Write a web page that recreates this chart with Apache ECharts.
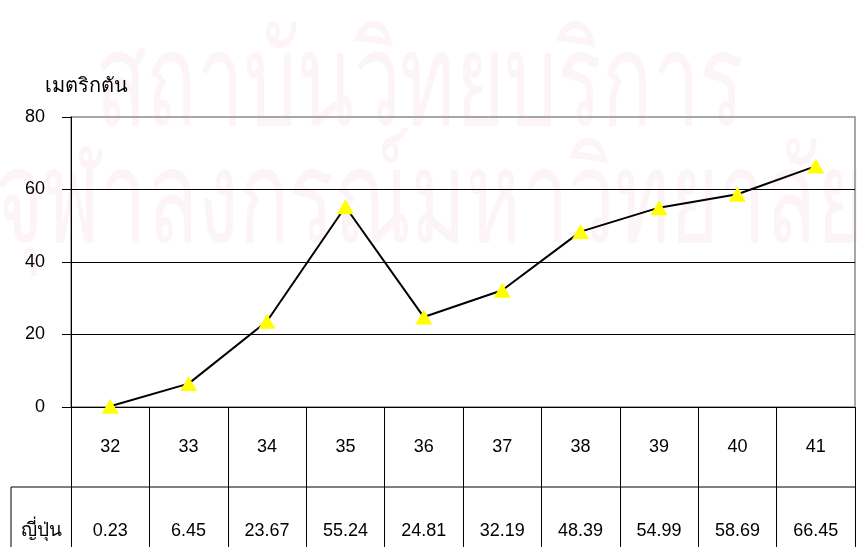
<!DOCTYPE html>
<html><head><meta charset="utf-8">
<script src="https://cdn.jsdelivr.net/npm/echarts@6/dist/echarts.min.js"></script>
<style>html,body{margin:0;padding:0;background:#fff}#c{width:857px;height:547px}</style>
</head><body><div id="c"></div>
<script>
const categories = ['32','33','34','35','36','37','38','39','40','41'];
const values = [0.23, 6.45, 23.67, 55.24, 24.81, 32.19, 48.39, 54.99, 58.69, 66.45];
const valueLabels = ['0.23','6.45','23.67','55.24','24.81','32.19','48.39','54.99','58.69','66.45'];
const seriesName = 'ญี่ปุ่น';
const unitName = 'เมตริกตัน';
const yTicks = [0, 20, 40, 60, 80];
const watermark = ['สถาบันวิทยบริการ', 'จุฬาลงกรณ์มหาวิทยาลัย'];

const W = 857, H = 547;
const G = {left: 71, right: 2, top: 117, bottom: 140};
const row1H = 80;
const FONT = '"Liberation Sans", "Noto Sans", sans-serif';

const chart = echarts.init(document.getElementById('c'), null, {renderer: 'canvas'});
const axisBottomY = H - G.bottom;
const rowSplitY = axisBottomY + row1H;
const rightX = W - G.right;

chart.setOption({
  animation: false,
  backgroundColor: '#fff',
  textStyle: {fontFamily: FONT},
  graphic: [
    {type: 'text', z: -10, x: 420, y: 24, scaleX: 0.64, style: {text: watermark[0], x: 0, y: 0, align: 'center', verticalAlign: 'top', fontSize: 130, fontFamily: FONT, fill: '#fcf4f7'}},
    {type: 'text', z: -10, x: 430, y: 141, scaleX: 0.64, style: {text: watermark[1], x: 0, y: 0, align: 'center', verticalAlign: 'top', fontSize: 130, fontFamily: FONT, fill: '#fcf4f7'}},
    {type: 'line', z: 10, shape: {x1: 11, y1: rowSplitY, x2: rightX, y2: rowSplitY}, style: {stroke: '#000', lineWidth: 1}},
    {type: 'line', z: 10, shape: {x1: 11, y1: rowSplitY, x2: 11, y2: H}, style: {stroke: '#000', lineWidth: 1}},
    {type: 'text', z: 10, x: 41, y: rowSplitY + 44, style: {text: seriesName, fontSize: 19, fontFamily: FONT, fill: '#000', align: 'center', verticalAlign: 'middle'}},
    {type: 'text', z: 10, x: 45, y: 86, style: {text: unitName, fontSize: 20, fontFamily: FONT, fill: '#000', align: 'left', verticalAlign: 'middle'}}
  ],
  grid: {left: G.left, right: G.right, top: G.top, bottom: G.bottom, show: true, borderColor: '#8a8a8a', borderWidth: 1.5, backgroundColor: 'transparent', outerBoundsMode: 'none', containLabel: false},
  xAxis: {
    type: 'category', data: categories, boundaryGap: true,
    axisLine: {show: true, lineStyle: {color: '#000', width: 1}},
    axisTick: {show: true, interval: 0, length: H - axisBottomY, lineStyle: {color: '#000', width: 1}},
    axisLabel: {
      interval: 0, margin: 0, color: '#000', fontSize: 18, fontFamily: FONT,
      formatter: (v, i) => '{a|' + v + '}\n{b|' + valueLabels[i] + '}',
      rich: {a: {lineHeight: row1H, fontSize: 18, fontFamily: FONT, color: '#000'}, b: {lineHeight: 88, fontSize: 18, fontFamily: FONT, color: '#000'}}
    },
    splitLine: {show: false}
  },
  yAxis: {
    type: 'value', min: yTicks[0], max: yTicks[yTicks.length - 1], interval: 20,
    axisLine: {show: true, lineStyle: {color: '#000', width: 1}},
    axisTick: {show: true, length: 9, lineStyle: {color: '#000'}},
    axisLabel: {margin: 26, color: '#000', fontSize: 18, fontFamily: FONT},
    splitLine: {show: true, showMaxLine: false, showMinLine: false, lineStyle: {color: '#000', width: 1}}
  },
  series: [{
    name: seriesName, type: 'line', data: values,
    lineStyle: {color: '#000', width: 2},
    symbol: 'triangle', symbolSize: [17, 15],
    itemStyle: {color: '#ffff00', borderWidth: 0},
    z: 5
  }]
});
</script></body></html>
